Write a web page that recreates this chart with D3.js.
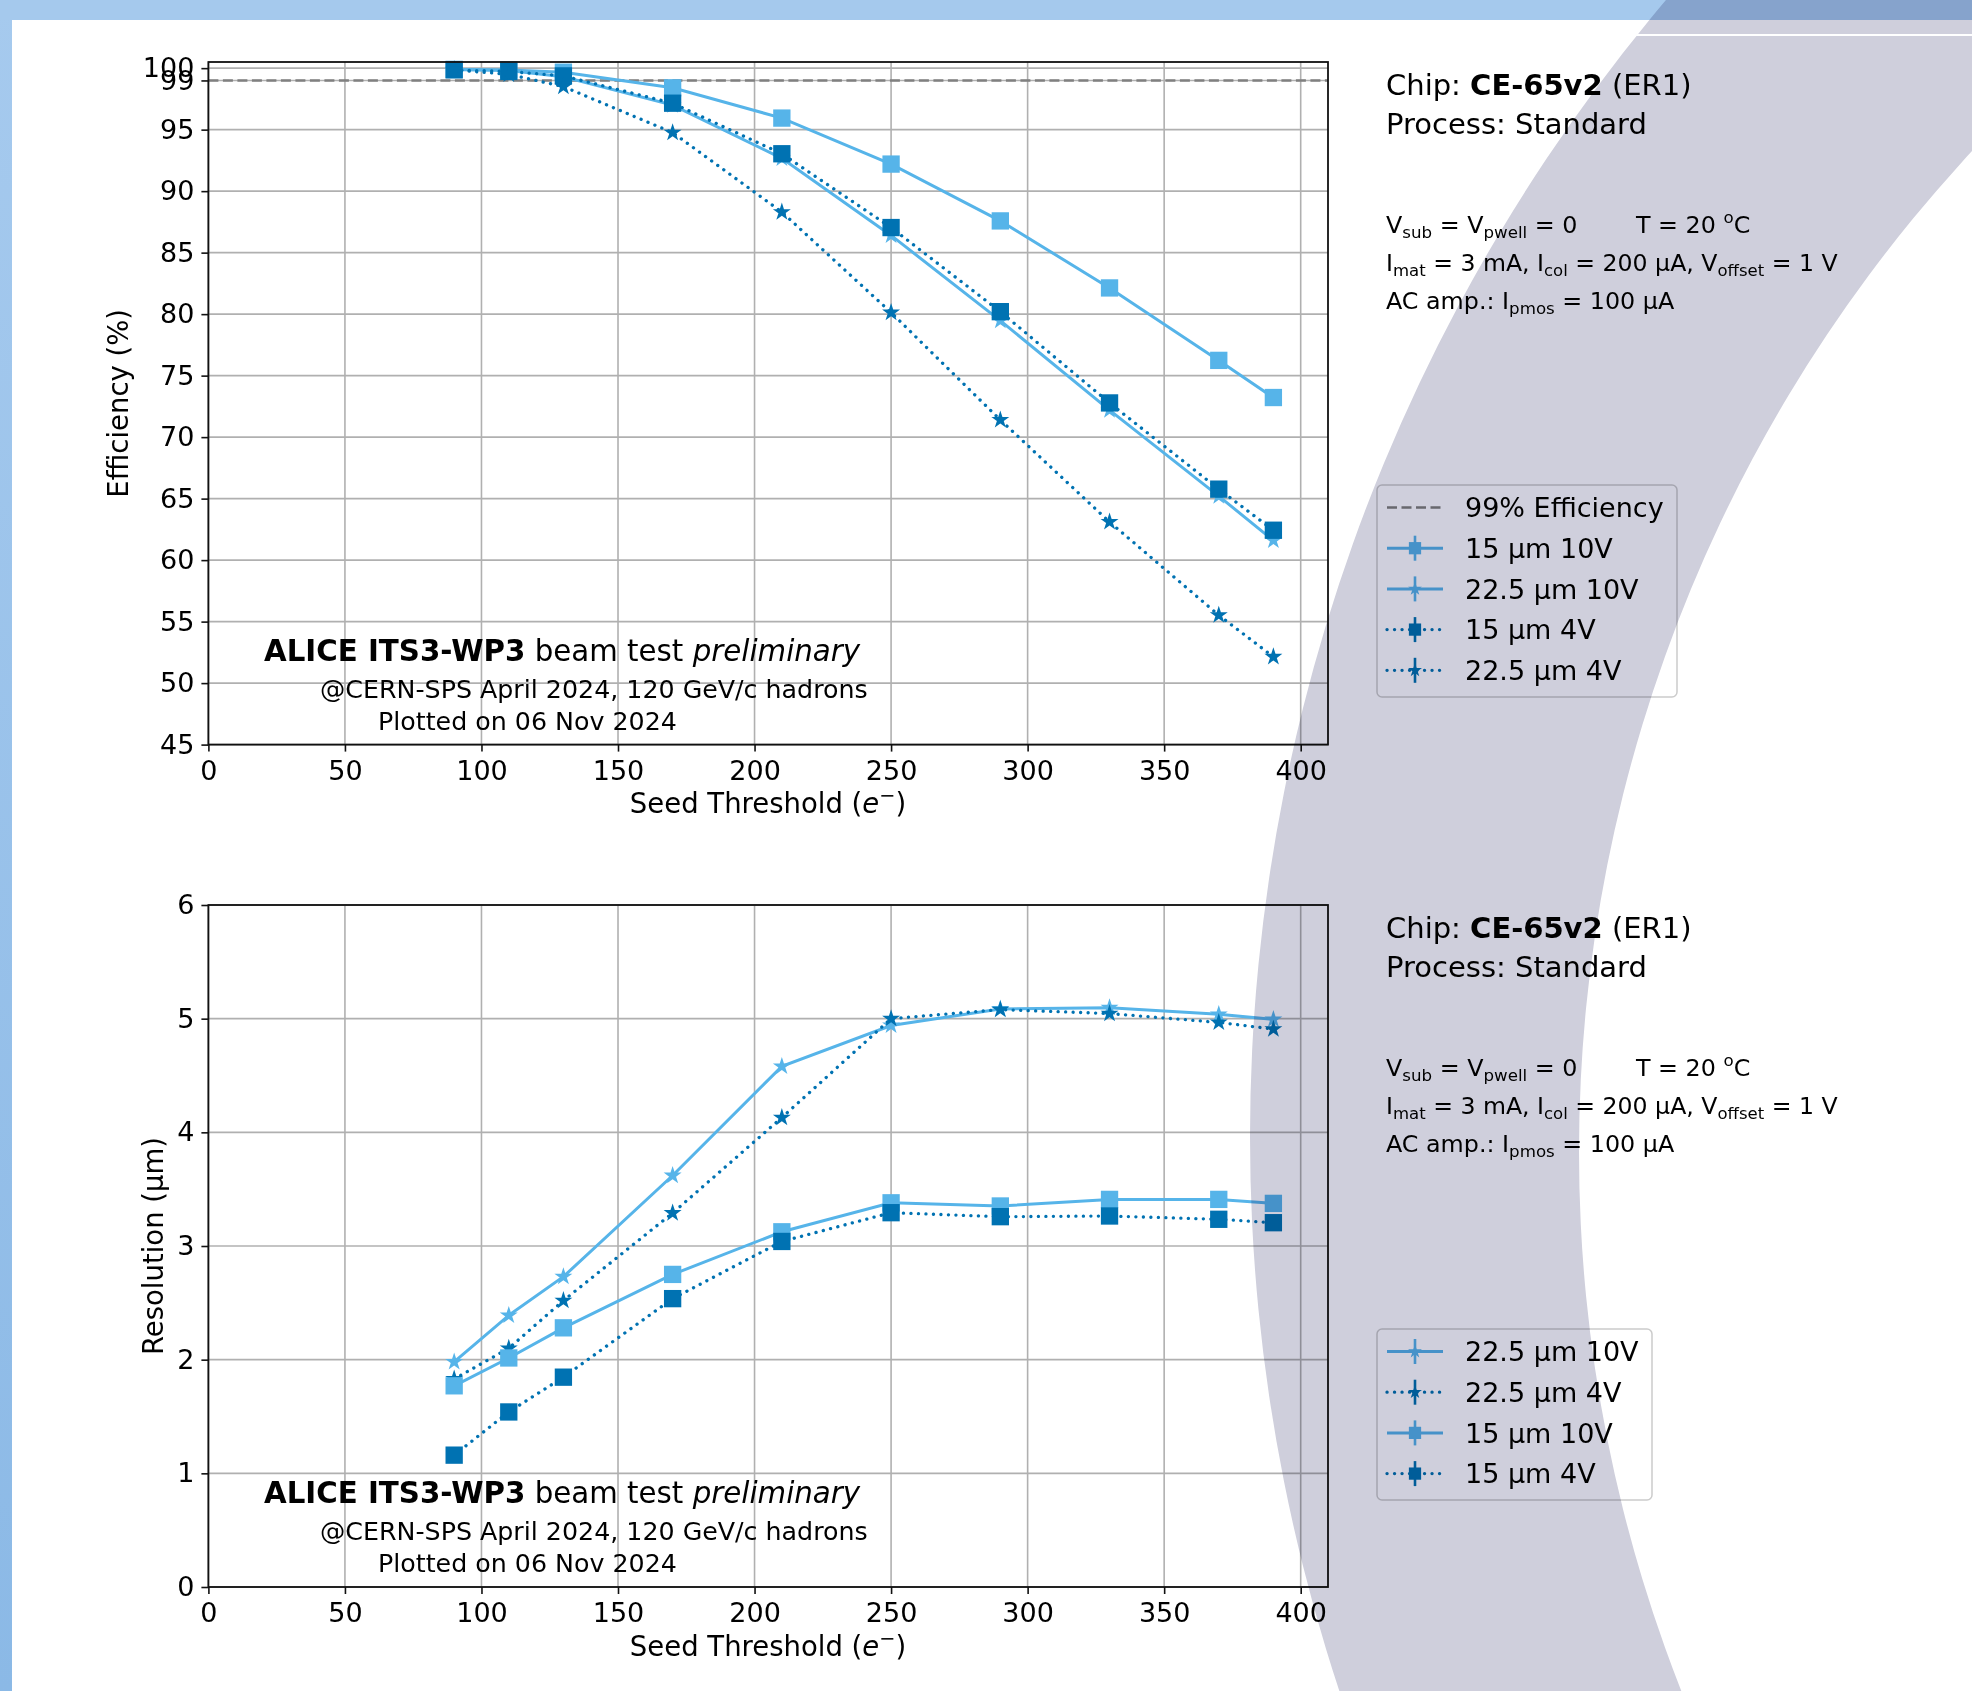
<!DOCTYPE html>
<html>
<head>
<meta charset="utf-8">
<script src="https://cdn.jsdelivr.net/npm/d3@7"></script>
<style>
body { margin: 0; background: #fff; }
svg text { font-family: "DejaVu Sans", sans-serif; fill: #000; }
</style>
</head>
<body>
<svg id="fig" width="1972" height="1691"></svg>
<script>
// ---- data ----
var thresholds = [90, 110, 130, 170, 210, 250, 290, 330, 370, 390];

// efficiency (%)
var eff15_10V  = [99.9, 99.85, 99.67, 98.4, 95.94, 92.2, 87.58, 82.13, 76.24, 73.22];
var eff225_10V = [99.9, 99.8, 99.3, 97.0, 92.67, 86.4, 79.47, 72.2, 65.2, 61.6];
var eff15_4V   = [99.86, 99.73, 99.37, 97.15, 93.04, 87.04, 80.2, 72.78, 65.77, 62.43];
var eff225_4V  = [99.85, 99.5, 98.5, 94.76, 88.3, 80.13, 71.4, 63.1, 55.52, 52.14];

// resolution (um)
var res225_10V = [1.98, 2.39, 2.73, 3.62, 4.58, 4.94, 5.085, 5.097, 5.038, 4.994];
var res225_4V  = [1.83, 2.10, 2.52, 3.29, 4.13, 5.0, 5.08, 5.045, 4.967, 4.908];
var res15_10V  = [1.77, 2.015, 2.28, 2.75, 3.125, 3.38, 3.352, 3.41, 3.41, 3.375];
var res15_4V   = [1.16, 1.54, 1.846, 2.537, 3.04, 3.293, 3.258, 3.264, 3.235, 3.205];

var xTicks   = [0, 50, 100, 150, 200, 250, 300, 350, 400];
var effTicks = [45, 50, 55, 60, 65, 70, 75, 80, 85, 90, 95, 99, 100];
var resTicks = [0, 1, 2, 3, 4, 5, 6];
var effLine  = 99;

var LIGHT = "#56b4e9", DARK = "#0072b2";
var svg = d3.select("#fig");

// ---- slide background ----
var defs = svg.append("defs");
var lg = defs.append("linearGradient").attr("id", "band").attr("x1", 0).attr("y1", 0).attr("x2", 0).attr("y2", 1);
lg.append("stop").attr("offset", "0%").attr("stop-color", "#a6caee");
lg.append("stop").attr("offset", "100%").attr("stop-color", "#8bb9e6");
svg.append("rect").attr("width", 1972).attr("height", 1691).attr("fill", "url(#band)");
svg.append("rect").attr("x", 0).attr("y", 0).attr("width", 1972).attr("height", 20).attr("fill", "#a5c9ed");
svg.append("rect").attr("x", 12).attr("y", 20).attr("width", 1960).attr("height", 1671).attr("fill", "#fff");

function rich(sel, x, y, size, parts) {
    var t = sel.append("text").attr("x", x).attr("y", y).style("font-size", size + "px");
    var shift = 0;
    parts.forEach(function (p) {
        var s = p[1] || "";
        var ts = t.append("tspan").text(p[0]);
        var target = 0;
        if (s === "sub") { target = size * 0.22; ts.style("font-size", (size * 0.7) + "px"); }
        if (s === "sup") { target = -size * 0.4; ts.style("font-size", (size * 0.7) + "px"); }
        if (target !== shift) { ts.attr("dy", target - shift); shift = target; }
        if (s === "b") ts.style("font-weight", "bold");
        if (s === "i") ts.style("font-style", "italic");
    });
    return t;
}

function marker(type, size) {
    return d3.symbol().type(type === "star" ? d3.symbolStar : d3.symbolSquare).size(size)();
}

function panel(o) {
    var g = svg.append("g");
    var x = d3.scaleLinear().domain([0, 410]).range([208.4, 1328]);
    var y = d3.scaleLinear().domain(o.yDomain).range([o.bottom, o.top]);

    // grid
    g.selectAll(".gx").data(xTicks).enter().append("line")
        .attr("x1", function (d) { return x(d); }).attr("x2", function (d) { return x(d); })
        .attr("y1", o.top).attr("y2", o.bottom)
        .attr("stroke", "#b0b0b0").attr("stroke-width", 1.6);
    g.selectAll(".gy").data(o.yTicks).enter().append("line")
        .attr("y1", function (d) { return y(d); }).attr("y2", function (d) { return y(d); })
        .attr("x1", 208.4).attr("x2", 1328)
        .attr("stroke", "#b0b0b0").attr("stroke-width", 1.6);

    if (o.refLine) {
        g.append("line").attr("x1", 208.4).attr("x2", 1328)
            .attr("y1", y(o.refLine)).attr("y2", y(o.refLine))
            .attr("stroke", "#808080").attr("stroke-width", 2.6).attr("stroke-dasharray", "10,4.5");
    }

    var line = d3.line()
        .x(function (d, i) { return x(thresholds[i]); })
        .y(function (d) { return y(d); });

    o.series.forEach(function (s) {
        g.append("path").datum(s.values)
            .attr("d", line).attr("fill", "none")
            .attr("stroke", s.color).attr("stroke-width", s.dotted ? 3.3 : 3)
            .attr("stroke-linecap", s.dotted ? "round" : "butt")
            .attr("stroke-dasharray", s.dotted ? "0.1,7.4" : null);
        g.selectAll(null).data(s.values).enter().append("path")
            .attr("d", marker(s.marker, s.marker === "star" ? 100 : 300))
            .attr("transform", function (d, i) { return "translate(" + x(thresholds[i]) + "," + y(d) + ")"; })
            .attr("fill", s.color);
    });

    // spines
    g.append("rect").attr("x", 208.4).attr("y", o.top).attr("width", 1328 - 208.4).attr("height", o.bottom - o.top)
        .attr("fill", "none").attr("stroke", "#111").attr("stroke-width", 1.8);

    var ax = g.append("g").attr("transform", "translate(0," + o.bottom + ")")
        .call(d3.axisBottom(x).tickValues(xTicks).tickSize(7).tickPadding(9).tickFormat(d3.format("d")));
    var ay = g.append("g").attr("transform", "translate(208.4,0)")
        .call(d3.axisLeft(y).tickValues(o.yTicks).tickSize(7).tickPadding(7).tickFormat(d3.format("d")));
    [ax, ay].forEach(function (a) {
        a.select(".domain").remove();
        a.selectAll("line").attr("stroke", "#111").attr("stroke-width", 1.6);
        a.selectAll("text").style("font-size", "27px").attr("fill", "#000");
    });

    // axis labels
    rich(g, 768, o.bottom + 68.5, 27.5, [["Seed Threshold ("], ["e", "i"], ["\u2212", "sup"], [")"]])
        .attr("text-anchor", "middle");
    g.append("text").attr("transform", "translate(" + o.ylabelX + "," + ((o.top + o.bottom) / 2) + ") rotate(-90)")
        .attr("text-anchor", "middle").attr("dy", "0.35em").style("font-size", "27.5px").text(o.ylabel);

    // annotation
    rich(g, 264, o.bottom - 84, 29.3, [["ALICE ITS3-WP3", "b"], [" beam test "], ["preliminary", "i"]]);
    g.append("text").attr("x", 320).attr("y", o.bottom - 47).style("font-size", "25.3px")
        .text("@CERN-SPS April 2024, 120 GeV/c hadrons");
    g.append("text").attr("x", 378).attr("y", o.bottom - 15).style("font-size", "25.3px")
        .text("Plotted on 06 Nov 2024");

    // chip text
    rich(g, 1386, o.top + 33, 29, [["Chip: "], ["CE-65v2", "b"], [" (ER1)"]]);
    g.append("text").attr("x", 1386).attr("y", o.top + 72).style("font-size", "29px").text("Process: Standard");
    rich(g, 1386, o.top + 171, 23.8, [["V"], ["sub", "sub"], [" = V"], ["pwell", "sub"], [" = 0"]]);
    rich(g, 1636, o.top + 171, 23.8, [["T = 20 "], ["o", "sup"], ["C"]]);
    rich(g, 1386, o.top + 209, 23.6, [["I"], ["mat", "sub"], [" = 3 mA, I"], ["col", "sub"], [" = 200 \u00b5A, V"], ["offset", "sub"], [" = 1 V"]]);
    rich(g, 1386, o.top + 246.5, 23.8, [["AC amp.: I"], ["pmos", "sub"], [" = 100 \u00b5A"]]);

    // legend
    var L = o.legend;
    var rows = o.legendRows;
    g.append("rect").attr("x", L.x).attr("y", L.y).attr("width", L.w).attr("height", L.h)
        .attr("rx", 5).attr("fill", "#fff").attr("fill-opacity", 0.8)
        .attr("stroke", "#cccccc").attr("stroke-width", 1.5);
    rows.forEach(function (r, i) {
        var cy = L.y + 22.5 + i * 40.7;
        if (r.ref) {
            g.append("line").attr("x1", 1387).attr("x2", 1443).attr("y1", cy).attr("y2", cy)
                .attr("stroke", "#808080").attr("stroke-width", 2.6).attr("stroke-dasharray", "10,4.5");
        } else {
            g.append("line").attr("x1", 1387).attr("x2", 1443).attr("y1", cy).attr("y2", cy)
                .attr("stroke", r.color).attr("stroke-width", r.dotted ? 3.3 : 3)
                .attr("stroke-linecap", r.dotted ? "round" : "butt")
                .attr("stroke-dasharray", r.dotted ? "0.1,7.4" : null);
            g.append("line").attr("x1", 1415).attr("x2", 1415).attr("y1", cy - 12.5).attr("y2", cy + 12.5)
                .attr("stroke", r.color).attr("stroke-width", 2.6);
            g.append("path").attr("d", marker(r.marker, r.marker === "star" ? 60 : 150))
                .attr("transform", "translate(1415," + cy + ")").attr("fill", r.color);
        }
        g.append("text").attr("x", 1465).attr("y", cy).attr("dy", "0.36em")
            .style("font-size", "27px").text(r.label);
    });
}

var s15_10  = { color: LIGHT, dotted: false, marker: "square", label: "15 \u00b5m 10V" };
var s225_10 = { color: LIGHT, dotted: false, marker: "star", label: "22.5 \u00b5m 10V" };
var s15_4   = { color: DARK, dotted: true, marker: "square", label: "15 \u00b5m 4V" };
var s225_4  = { color: DARK, dotted: true, marker: "star", label: "22.5 \u00b5m 4V" };
function withValues(s, v) { return Object.assign({}, s, { values: v }); }

panel({
    top: 62, bottom: 744.6, yDomain: [45, 100.5], yTicks: effTicks, refLine: effLine,
    ylabel: "Efficiency (%)", ylabelX: 118,
    series: [withValues(s15_10, eff15_10V), withValues(s225_10, eff225_10V),
             withValues(s15_4, eff15_4V), withValues(s225_4, eff225_4V)],
    legend: { x: 1377, y: 485, w: 300, h: 212 },
    legendRows: [{ ref: true, label: "99% Efficiency" }, s15_10, s225_10, s15_4, s225_4]
});

panel({
    top: 905, bottom: 1587, yDomain: [0, 6], yTicks: resTicks, refLine: null,
    ylabel: "Resolution (\u00b5m)", ylabelX: 153,
    series: [withValues(s225_10, res225_10V), withValues(s225_4, res225_4V),
             withValues(s15_10, res15_10V), withValues(s15_4, res15_4V)],
    legend: { x: 1377, y: 1329, w: 275, h: 171 },
    legendRows: [s225_10, s225_4, s15_10, s15_4]
});

// ---- grey arc of the slide, laid over everything ----
function circ(cx, cy, r) {
    return "M" + (cx - r) + "," + cy + "a" + r + "," + r + " 0 1,0 " + (2 * r) + ",0" +
           "a" + r + "," + r + " 0 1,0 " + (-2 * r) + ",0Z";
}
svg.append("path").attr("d", circ(3012, 1137, 1762) + circ(3050, 1152, 1471))
    .attr("fill-rule", "evenodd").attr("fill", "#cfcfdc")
    .style("mix-blend-mode", "multiply");
svg.append("line").attr("x1", 1560).attr("x2", 1972).attr("y1", 35).attr("y2", 35)
    .attr("stroke", "#fff").attr("stroke-width", 2);
</script>
</body>
</html>
